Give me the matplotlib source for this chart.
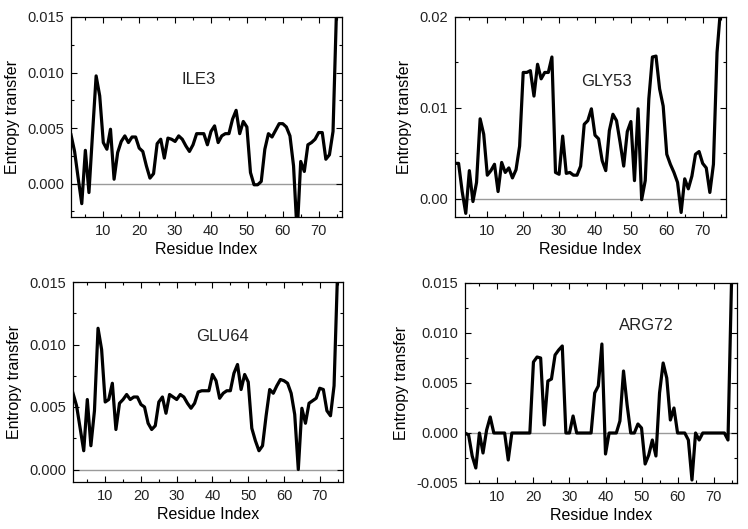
import matplotlib
matplotlib.use('Agg')
import matplotlib.pyplot as plt
import numpy as np
from matplotlib.ticker import MultipleLocator, FormatStrFormatter

plt.rcParams.update({
    'font.family': ['Liberation Sans', 'DejaVu Sans'],
    'font.size': 10,
    'axes.unicode_minus': False,
    'text.color': '#222222',
    'xtick.color': 'black',
    'ytick.color': 'black',
    'xtick.labelcolor': '#222222',
    'ytick.labelcolor': '#222222',
})

# Data: entropy transfer per residue
residues = np.arange(1, 76)

ile3 = [0.0044, 0.0029, 0.0005, -0.0018, 0.0030, -0.0008, 0.0045, 0.0097, 0.0079, 0.0037,
        0.0031, 0.0049, 0.0004, 0.0028, 0.0038, 0.0043, 0.0037, 0.0042, 0.0042, 0.0032,
        0.0029, 0.0016, 0.0005, 0.0009, 0.0036, 0.0040, 0.0023, 0.0041, 0.0040, 0.0038,
        0.0043, 0.0040, 0.0034, 0.0029, 0.0035, 0.0045, 0.0045, 0.0045, 0.0035, 0.0047,
        0.0052, 0.0037, 0.0043, 0.0045, 0.0045, 0.0058, 0.0066, 0.0045, 0.0056, 0.0051,
        0.0010, -0.0001, -0.0001, 0.0002, 0.0031, 0.0045, 0.0042, 0.0048, 0.0054, 0.0054,
        0.0051, 0.0043, 0.0016, -0.0045, 0.0020, 0.0011, 0.0035, 0.0037, 0.0040, 0.0046,
        0.0046, 0.0022, 0.0026, 0.0047, 0.0160]

gly53 = [0.0039, 0.0039, 0.0008, -0.0016, 0.0031, -0.0003, 0.0018, 0.0088, 0.0071, 0.0026,
         0.0031, 0.0038, 0.0008, 0.0040, 0.0029, 0.0034, 0.0023, 0.0032, 0.0058, 0.0139,
         0.0139, 0.0141, 0.0113, 0.0148, 0.0132, 0.0139, 0.0139, 0.0156, 0.0029, 0.0027,
         0.0069, 0.0028, 0.0029, 0.0026, 0.0026, 0.0036, 0.0082, 0.0086, 0.0099, 0.0070,
         0.0066, 0.0042, 0.0031, 0.0075, 0.0093, 0.0086, 0.0062, 0.0036, 0.0074, 0.0085,
         0.0020, 0.0099, -0.0001, 0.0020, 0.0110, 0.0156, 0.0157, 0.0121, 0.0102, 0.0049,
         0.0038, 0.0029, 0.0018, -0.0015, 0.0022, 0.0011, 0.0025, 0.0049, 0.0052, 0.0039,
         0.0034, 0.0007, 0.0038, 0.0161, 0.0210]

glu64 = [0.0061, 0.0051, 0.0033, 0.0015, 0.0056, 0.0019, 0.0047, 0.0113, 0.0096, 0.0054,
         0.0056, 0.0069, 0.0032, 0.0053, 0.0056, 0.0060, 0.0056, 0.0058, 0.0058, 0.0052,
         0.0050, 0.0037, 0.0032, 0.0035, 0.0054, 0.0058, 0.0045, 0.0060, 0.0058, 0.0056,
         0.0060, 0.0058, 0.0053, 0.0049, 0.0053, 0.0062, 0.0063, 0.0063, 0.0063, 0.0076,
         0.0071, 0.0057, 0.0061, 0.0063, 0.0063, 0.0077, 0.0084, 0.0064, 0.0076, 0.0070,
         0.0033, 0.0023, 0.0015, 0.0019, 0.0043, 0.0064, 0.0061, 0.0067, 0.0072, 0.0071,
         0.0069, 0.0061, 0.0044, 0.0000, 0.0049, 0.0037, 0.0053, 0.0055, 0.0057, 0.0065,
         0.0064, 0.0047, 0.0043, 0.0067, 0.0160]

arg72 = [0.0, -0.0002, -0.0023, -0.0035, 0.0, -0.0020, 0.0003, 0.0016, 0.0, 0.0,
         0.0, 0.0, -0.0027, 0.0, 0.0, 0.0, 0.0, 0.0, 0.0, 0.0071,
         0.0076, 0.0075, 0.0008, 0.0052, 0.0054, 0.0078, 0.0083, 0.0087, 0.0, 0.0,
         0.0017, 0.0, 0.0, 0.0, 0.0, 0.0, 0.0040, 0.0047, 0.0089, -0.0021,
         0.0, 0.0, 0.0, 0.0012, 0.0062, 0.0028, 0.0, 0.0, 0.0009, 0.0005,
         -0.0031, -0.0022, -0.0007, -0.0023, 0.0040, 0.0070, 0.0055, 0.0013, 0.0025, 0.0,
         0.0, 0.0, -0.0007, -0.0047, 0.0, -0.0007, 0.0, 0.0, 0.0, 0.0,
         0.0, 0.0, 0.0, -0.0007, 0.0155]

W, H = 748, 529
fig = plt.figure(figsize=(W / 100, H / 100), dpi=100)

# (name, values, ylim, major step, label format, axes box in px, name position)
panels = [
    ('ILE3', ile3, (-0.003, 0.015), 0.005, '%.3f', (71, 17, 342, 217), (0.47, 0.685)),
    ('GLY53', gly53, (-0.002, 0.02), 0.01, '%.2f', (455, 17, 726, 217), (0.557, 0.675)),
    ('GLU64', glu64, (-0.001, 0.015), 0.005, '%.3f', (73, 282, 343, 482), (0.554, 0.727)),
    ('ARG72', arg72, (-0.005, 0.015), 0.005, '%.3f', (465, 283, 737, 483), (0.668, 0.785)),
]

for name, vals, ylim, step, fmt, box, tpos in panels:
    l, t, r, b = box
    ax = fig.add_axes([l / W, 1 - b / H, (r - l) / W, (b - t) / H])
    ax.axhline(0, color='#9a9a9a', lw=1.0, zorder=1)
    ax.plot(residues, vals, color='black', lw=2.3, zorder=3)
    ax.set_xlim(1, 76.5)
    ax.set_ylim(*ylim)
    ax.xaxis.set_major_locator(MultipleLocator(10))
    ax.xaxis.set_minor_locator(MultipleLocator(5))
    ax.yaxis.set_major_locator(MultipleLocator(step))
    ax.yaxis.set_minor_locator(MultipleLocator(step / 2))
    ax.yaxis.set_major_formatter(FormatStrFormatter(fmt))
    ax.tick_params(which='both', direction='in', top=True, right=True, width=0.8)
    ax.tick_params(which='major', length=4, labelsize=10.5, pad=5)
    ax.tick_params(which='minor', length=2.5)
    for sp in ax.spines.values():
        sp.set_linewidth(0.9)
    ax.set_xlabel('Residue Index', fontsize=11.5, labelpad=3)
    ax.set_ylabel('Entropy transfer', fontsize=11.5, labelpad=5)
    ax.text(tpos[0], tpos[1], name, transform=ax.transAxes, ha='center', va='center',
            fontsize=12)

fig.savefig('out.png', dpi=100, facecolor='white')
plt.close()
